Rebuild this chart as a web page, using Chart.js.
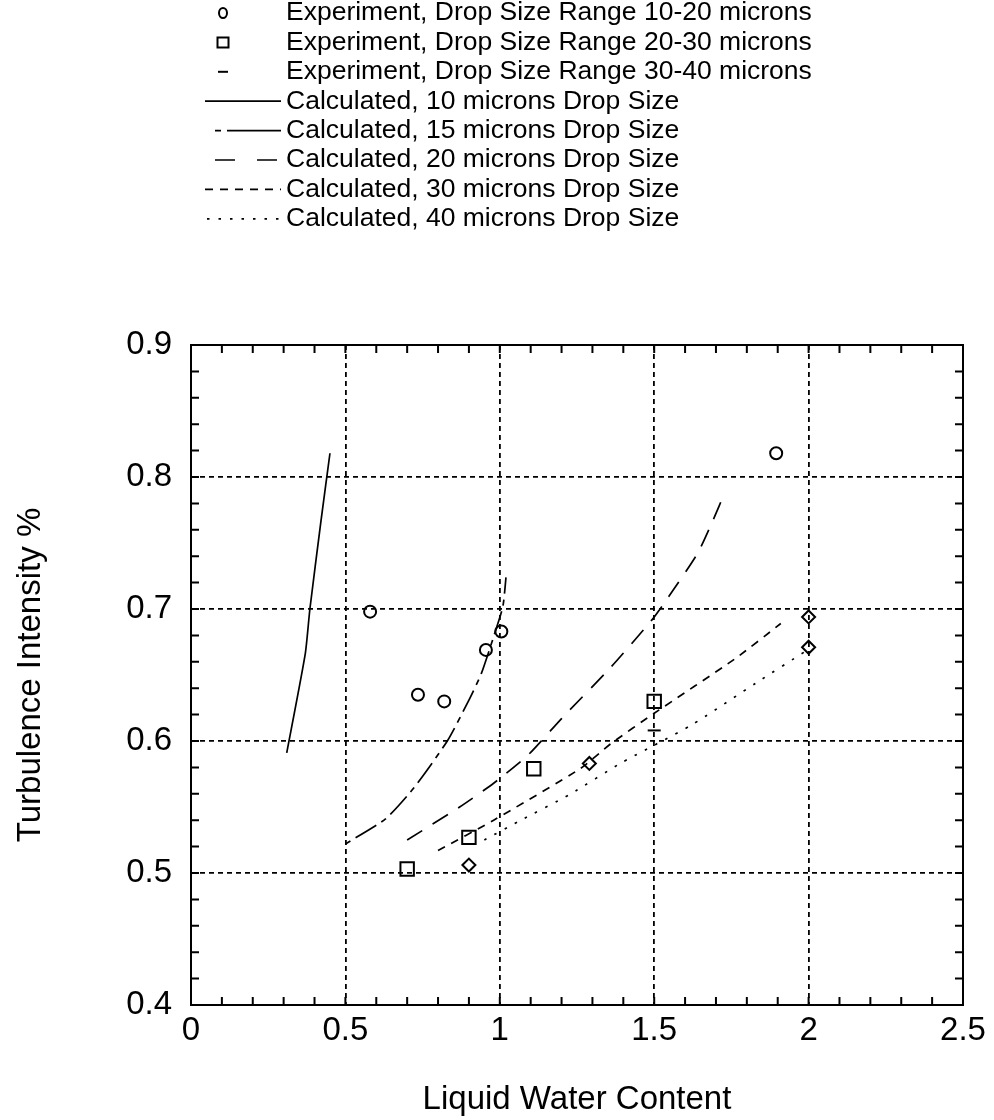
<!DOCTYPE html>
<html lang="en">
<head>
  <meta charset="UTF-8">
  <title>Turbulence Intensity vs Liquid Water Content</title>
  <style>
    body {
      margin: 0;
      padding: 0;
      background: #fff;
    }
    #wrap {
      width: 994px;
      height: 1120px;
      position: relative;
    }
  </style>
  <script src="https://cdn.jsdelivr.net/npm/chart.js"></script>
</head>
<body>
  <div id="wrap">
    <canvas id="lwcChart"></canvas>
  </div>
  <script>
    // experimental points
    const exp1020X = [0.58, 0.735, 0.82, 0.955, 1.005, 1.895];
    const exp1020Y = [0.698, 0.635, 0.630, 0.669, 0.683, 0.818];
    const exp2030X = [0.70, 0.90, 1.11, 1.50];
    const exp2030Y = [0.503, 0.527, 0.579, 0.630];
    const exp3040X = [0.90, 1.29, 1.50, 2.00, 2.00];
    const exp3040Y = [0.506, 0.583, 0.608, 0.694, 0.671];
    const exp3040Marks = ['rectRot', 'rectRot', 'line', 'rectRot', 'rectRot'];

    // calculated curves
    const calc10X = [0.31, 0.37, 0.385, 0.42, 0.45];
    const calc10Y = [0.591, 0.666, 0.700, 0.765, 0.818];
    const calc15X = [0.50, 0.63, 0.72, 0.83, 0.90, 0.94, 0.98, 1.01, 1.02];
    const calc15Y = [0.522, 0.541, 0.564, 0.600, 0.631, 0.651, 0.679, 0.702, 0.724];
    const calc20X = [0.70, 0.87, 0.98, 1.09, 1.20, 1.36, 1.49, 1.54, 1.64, 1.69, 1.73];
    const calc20Y = [0.525, 0.550, 0.568, 0.589, 0.617, 0.656, 0.691, 0.707, 0.742, 0.767, 0.789];
    const calc30X = [0.80, 0.98, 1.26, 1.36, 1.50, 1.76, 1.91];
    const calc30Y = [0.517, 0.540, 0.579, 0.598, 0.621, 0.662, 0.689];
    const calc40X = [0.95, 1.06, 1.23, 1.39, 1.62, 1.83, 1.99];
    const calc40Y = [0.525, 0.539, 0.560, 0.583, 0.612, 0.644, 0.668];

    const seriesLabels = [
      'Experiment, Drop Size Range 10-20 microns',
      'Experiment, Drop Size Range 20-30 microns',
      'Experiment, Drop Size Range 30-40 microns',
      'Calculated, 10 microns Drop Size',
      'Calculated, 15 microns Drop Size',
      'Calculated, 20 microns Drop Size',
      'Calculated, 30 microns Drop Size',
      'Calculated, 40 microns Drop Size'
    ];

    const xTickValues = [0, 0.5, 1, 1.5, 2, 2.5];
    const yTickValues = [0.4, 0.5, 0.6, 0.7, 0.8, 0.9];

    const FONT = '"Liberation Sans", Arial, sans-serif';

    function pts(xs, ys) {
      return xs.map((x, i) => ({ x: x, y: ys[i] }));
    }

    function markerSet(label, xs, ys, style, radius) {
      return {
        label: label,
        data: pts(xs, ys),
        showLine: false,
        pointStyle: style,
        pointRadius: radius,
        pointBorderWidth: 2,
        pointBorderColor: '#000',
        pointBackgroundColor: 'rgba(0,0,0,0)'
      };
    }

    function curveSet(label, xs, ys, dash) {
      return {
        label: label,
        data: pts(xs, ys),
        showLine: true,
        borderColor: '#000',
        borderWidth: 1.7,
        borderDash: dash,
        pointRadius: 0,
        fill: false,
        tension: 0.2
      };
    }

    const datasets = [
      markerSet(seriesLabels[0], exp1020X, exp1020Y, 'circle', 6),
      markerSet(seriesLabels[1], exp2030X, exp2030Y, 'rect', 9.5),
      markerSet(seriesLabels[2], exp3040X, exp3040Y, exp3040Marks, 6.5),
      curveSet(seriesLabels[3], calc10X, calc10Y, []),
      curveSet(seriesLabels[4], calc15X, calc15Y, [6, 6, 24, 6]),
      curveSet(seriesLabels[5], calc20X, calc20Y, [18, 12]),
      curveSet(seriesLabels[6], calc30X, calc30Y, [8, 7]),
      curveSet(seriesLabels[7], calc40X, calc40Y, [2.5, 9])
    ];

    // legend samples are a bit shorter than the plot patterns
    const legendSamples = {
      3: { x0: 205, dash: [] },
      4: { x0: 215, dash: [6, 6, 60, 0] },
      5: { x0: 215, dash: [20, 22] },
      6: { x0: 205, dash: [8, 7] },
      7: { x0: 207, dash: [2.5, 9] }
    };

    // legend block above the plot, drawn by hand
    const legendPlugin = {
      id: 'topLegend',
      afterDraw(chart) {
        const ctx = chart.ctx;
        ctx.save();
        ctx.font = '26.5px ' + FONT;
        ctx.textBaseline = 'middle';
        ctx.fillStyle = '#000';
        ctx.strokeStyle = '#000';
        chart.data.datasets.forEach((ds, i) => {
          const y = 13 + i * 29.4;
          if (ds.showLine) {
            const s = legendSamples[i];
            ctx.lineWidth = 1.7;
            ctx.setLineDash(s.dash);
            ctx.beginPath();
            ctx.moveTo(s.x0, y);
            ctx.lineTo(281, y);
            ctx.stroke();
            ctx.setLineDash([]);
          } else {
            ctx.lineWidth = 2;
            ctx.beginPath();
            if (i === 0) {
              ctx.ellipse(223, y, 4, 5, 0, 0, Math.PI * 2);
            } else if (i === 1) {
              ctx.rect(217.5, y - 5, 11, 10);
            } else {
              ctx.moveTo(218, y);
              ctx.lineTo(228, y);
            }
            ctx.stroke();
          }
          ctx.fillText(ds.label, 286, y);
        });
        ctx.restore();
      }
    };

    // closed frame with inward minor ticks on all four sides
    const framePlugin = {
      id: 'frameTicks',
      afterDatasetsDraw(chart) {
        const ctx = chart.ctx;
        const a = chart.chartArea;
        const xs = chart.scales.x;
        const ys = chart.scales.y;
        ctx.save();
        ctx.strokeStyle = '#000';
        ctx.lineWidth = 2;
        ctx.setLineDash([]);
        ctx.strokeRect(a.left, a.top, a.right - a.left, a.bottom - a.top);
        ctx.beginPath();
        for (let k = 0; k <= 25; k++) {
          const px = xs.getPixelForValue(k / 10);
          ctx.moveTo(px, a.bottom);
          ctx.lineTo(px, a.bottom - 8);
          ctx.moveTo(px, a.top);
          ctx.lineTo(px, a.top + 8);
        }
        for (let k = 0; k <= 25; k++) {
          const py = ys.getPixelForValue(0.4 + k * 0.02);
          ctx.moveTo(a.left, py);
          ctx.lineTo(a.left + 8, py);
          ctx.moveTo(a.right, py);
          ctx.lineTo(a.right - 8, py);
        }
        ctx.stroke();
        ctx.restore();
      }
    };

    new Chart(document.getElementById('lwcChart'), {
      type: 'scatter',
      data: { datasets: datasets },
      options: {
        responsive: true,
        maintainAspectRatio: false,
        animation: false,
        layout: { padding: { top: 345, right: 31, left: 0, bottom: 0 } },
        plugins: {
          legend: { display: false },
          tooltip: { enabled: false }
        },
        scales: {
          x: {
            type: 'linear',
            min: 0,
            max: 2.5,
            afterFit(scale) { scale.height = 115; },
            afterBuildTicks(scale) { scale.ticks = xTickValues.map(v => ({ value: v })); },
            ticks: {
              padding: 6,
              color: '#000',
              font: { family: FONT, size: 33 },
              maxRotation: 0,
              autoSkip: false,
              callback: v => String(Number(v.toFixed(2)))
            },
            grid: { color: '#000', lineWidth: 1.8, drawTicks: false },
            border: { display: false, dash: [5, 4] },
            title: {
              display: true,
              text: 'Liquid Water Content',
              color: '#000',
              font: { family: FONT, size: 33 },
              padding: { top: 0, bottom: 0 }
            }
          },
          y: {
            type: 'linear',
            min: 0.4,
            max: 0.9,
            afterFit(scale) { scale.width = 191; },
            afterBuildTicks(scale) { scale.ticks = yTickValues.map(v => ({ value: v })); },
            ticks: {
              padding: 19,
              color: '#000',
              font: { family: FONT, size: 33 },
              autoSkip: false,
              callback: v => String(Number(v.toFixed(2)))
            },
            grid: { color: '#000', lineWidth: 1.8, drawTicks: false },
            border: { display: false, dash: [5, 4] },
            title: {
              display: true,
              text: 'Turbulence Intensity %',
              color: '#000',
              font: { family: FONT, size: 33 },
              padding: { top: 11, bottom: 0 }
            }
          }
        }
      },
      plugins: [legendPlugin, framePlugin]
    });
  </script>
</body>
</html>
